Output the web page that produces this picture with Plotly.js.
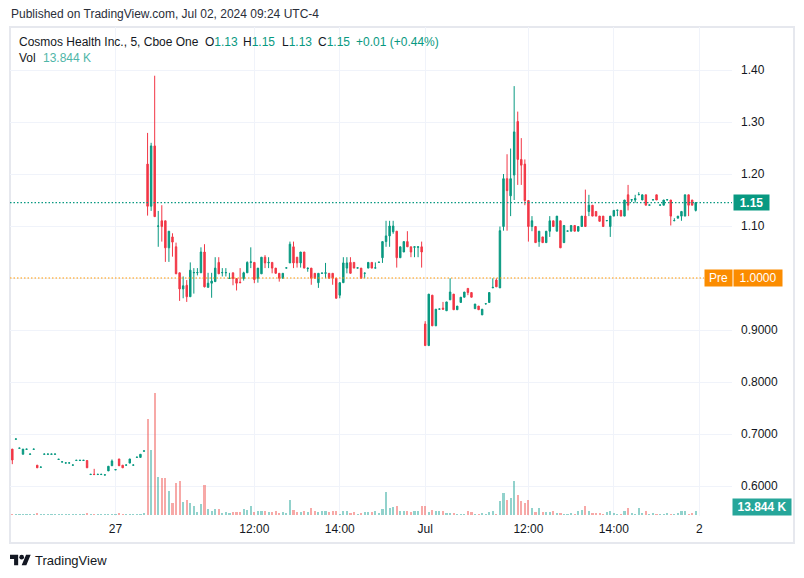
<!DOCTYPE html>
<html><head><meta charset="utf-8">
<script src="https://cdn.plot.ly/plotly-3.0.1.min.js"></script>
<style>html,body{margin:0;padding:0;background:#fff;}#chart{width:804px;height:578px;}</style>
</head><body><div id="chart"></div>
<script>
// ---- data (5-minute bars, Cosmos Health Inc., Cboe One) ----
const opens = [
0.671,0.690,0.6725,0.661,0.6705,0.661,0.6705,0.640,0.636,0.661,
0.661,0.661,0.661,0.651,0.646,0.644,0.644,0.640,0.649,0.649,
0.649,0.649,0.622,0.6225,0.622,0.622,0.621,0.629,0.639,0.631,
0.652,0.640,0.640,0.644,0.640,0.655,0.655,0.667,
1.219,1.138,1.254,1.0995,1.110,1.110,1.058,1.079,1.060,1.010,
0.979,0.986,0.964,1.010,1.010,1.010,1.050,0.982,0.990,0.993,
1.030,1.010,1.010,0.999,1.010,0.999,0.992,0.999,1.010,1.030,
1.030,0.9995,
1.008,1.040,1.029,1.030,1.019,1.009,0.9995,1.019,1.029,1.060,
1.040,1.029,1.050,1.018,1.019,1.009,0.991,1.009,1.009,1.009,
1.009,0.9995,0.967,0.991,1.019,1.030,1.030,1.019,1.019,1.009,
1.019,1.030,1.019,1.030,1.039,1.070,1.081,1.089,1.090,1.039,
1.050,1.070,1.060,1.059,1.059,1.060,
0.9115,0.870,0.967,0.908,0.940,0.942,0.937,0.958,0.969,0.939,
0.953,0.963,0.980,0.972,0.941,0.946,0.929,0.950,0.953,0.981,
0.996,0.981,1.099,1.191,1.158,1.198,1.301,1.228,1.219,1.149,
1.099,1.099,1.070,1.079,1.068,1.090,1.110,1.090,1.110,1.068,
1.090,1.090,1.101,1.090,1.099,1.119,1.128,1.140,1.128,1.119,
1.119,1.110,1.099,1.119,1.130,1.130,1.119,1.160,1.150,1.150,
1.160,1.150,1.160,1.140,1.150,1.160,1.140,1.140,1.150,1.150,
1.110,1.115,1.119,1.119,1.160,1.150,1.130];
const highs = [
0.671,0.6905,0.673,0.671,0.671,0.6615,0.671,0.640,0.6365,0.6615,
0.6615,0.6615,0.6615,0.6515,0.6465,0.6445,0.6445,0.6405,0.6495,0.6495,
0.6495,0.649,0.6225,0.633,0.6225,0.6225,0.6215,0.638,0.651,0.6315,
0.652,0.640,0.6405,0.652,0.6405,0.6555,0.661,0.6675,
1.279,1.260,1.389,1.129,1.140,1.110,1.090,1.086,1.068,1.010,
1.003,0.996,1.030,1.019,1.019,1.059,1.065,1.010,1.010,1.040,
1.040,1.019,1.019,1.010,1.010,0.999,1.019,1.012,1.032,1.059,
1.030,1.019,
1.040,1.044,1.040,1.030,1.019,1.009,1.009,1.0195,1.070,1.070,
1.040,1.050,1.050,1.019,1.019,1.009,1.009,1.0095,1.029,1.009,
1.009,0.9995,0.991,1.040,1.040,1.040,1.030,1.0195,1.019,1.0095,
1.030,1.030,1.030,1.0305,1.070,1.110,1.110,1.110,1.090,1.060,
1.070,1.090,1.060,1.060,1.060,1.070,
0.917,0.969,0.967,0.940,0.9405,0.954,0.954,0.9994,0.969,0.946,
0.963,0.973,0.980,0.972,0.950,0.946,0.940,0.9505,0.972,0.9994,
0.9994,1.099,1.200,1.238,1.249,1.369,1.320,1.269,1.228,1.149,
1.119,1.099,1.090,1.079,1.090,1.119,1.110,1.119,1.110,1.101,
1.0905,1.101,1.101,1.099,1.119,1.170,1.160,1.140,1.128,1.119,
1.119,1.1105,1.119,1.130,1.1305,1.130,1.150,1.179,1.1505,1.160,
1.165,1.160,1.160,1.1405,1.1505,1.160,1.1405,1.150,1.1505,1.150,
1.115,1.119,1.128,1.160,1.160,1.150,1.146];
const lows = [
0.642,0.690,0.6725,0.661,0.6705,0.661,0.6705,0.635,0.636,0.661,
0.661,0.661,0.661,0.651,0.646,0.644,0.644,0.640,0.649,0.649,
0.649,0.635,0.622,0.622,0.622,0.622,0.621,0.629,0.639,0.631,
0.639,0.635,0.640,0.644,0.640,0.655,0.655,0.667,
1.120,1.129,1.118,1.060,1.070,1.031,1.031,1.041,1.008,0.956,
0.961,0.954,0.964,0.970,1.005,1.010,0.982,0.982,0.962,0.993,
1.008,1.003,1.003,0.999,0.986,0.976,0.991,0.995,1.010,1.019,
0.990,0.991,
1.008,1.019,1.019,1.009,1.009,0.993,0.9995,1.019,1.029,1.019,
1.020,1.020,1.019,1.012,0.987,0.9995,0.981,1.009,0.9995,0.9995,
0.987,0.961,0.961,0.991,1.009,1.009,1.019,1.019,0.9995,0.9995,
1.019,1.019,1.019,1.030,1.029,1.060,1.060,1.085,1.020,1.039,
1.050,1.060,1.040,1.040,1.040,1.020,
0.870,0.870,0.908,0.908,0.940,0.940,0.937,0.958,0.939,0.939,
0.953,0.963,0.967,0.963,0.941,0.939,0.929,0.950,0.953,0.981,
0.983,0.981,1.091,1.091,1.119,1.150,1.179,1.179,1.140,1.070,
1.090,1.068,1.060,1.068,1.068,1.079,1.099,1.090,1.058,1.068,
1.090,1.090,1.090,1.090,1.099,1.099,1.119,1.119,1.119,1.109,
1.099,1.110,1.079,1.119,1.119,1.119,1.119,1.130,1.146,1.145,
1.160,1.150,1.140,1.140,1.150,1.150,1.140,1.140,1.150,1.101,
1.110,1.115,1.110,1.119,1.119,1.140,1.128];
const closes = [
0.650,0.6905,0.673,0.671,0.671,0.6615,0.671,0.635,0.6365,0.6615,
0.6615,0.6615,0.6615,0.6515,0.6465,0.6445,0.6445,0.6405,0.6495,0.6495,
0.6495,0.635,0.6225,0.622,0.6225,0.6225,0.6215,0.638,0.648,0.6315,
0.639,0.635,0.6405,0.652,0.6405,0.6555,0.661,0.6675,
1.138,1.254,1.118,1.100,1.099,1.058,1.090,1.069,1.008,0.979,
0.985,0.964,1.015,1.0105,1.0105,1.050,0.983,0.990,0.994,1.019,
1.008,1.0105,1.0105,0.9995,0.999,0.990,0.991,1.010,1.030,1.031,
0.997,1.019,
1.040,1.029,1.030,1.019,1.009,0.9995,1.009,1.0195,1.065,1.029,
1.029,1.050,1.019,1.019,0.9995,0.9995,1.009,1.0095,1.010,0.9995,
0.9995,0.961,0.991,1.029,1.029,1.009,1.019,1.0195,0.9995,1.0095,
1.030,1.019,1.0195,1.0305,1.070,1.081,1.100,1.100,1.039,1.060,
1.070,1.060,1.050,1.060,1.060,1.050,
0.870,0.969,0.908,0.940,0.9405,0.940,0.954,0.973,0.939,0.946,
0.963,0.973,0.972,0.963,0.950,0.939,0.940,0.9505,0.972,0.982,
0.983,1.091,1.191,1.168,1.191,1.281,1.228,1.217,1.149,1.099,
1.110,1.068,1.090,1.068,1.090,1.110,1.099,1.119,1.058,1.101,
1.0905,1.101,1.090,1.099,1.119,1.099,1.140,1.119,1.119,1.109,
1.099,1.1105,1.119,1.130,1.1305,1.119,1.150,1.140,1.1505,1.153,
1.1605,1.160,1.140,1.1405,1.1505,1.150,1.1405,1.150,1.1505,1.119,
1.1105,1.119,1.128,1.160,1.140,1.140,1.145];
const volumesK = [
4,3,4,3,4,3,4,5,3,4, 3,4,3,4,3,4,3,4,3,4,
3,5,3,4,3,4,3,4,4,3, 8,4,3,4,3,4,4,5,
439,297,561,173,168,168,108,53,145,152, 58,67,53,39,12,48,136,25,16,25,
25,7,12,5,12,12,12,25,21,39, 11,14,
14,14,11,11,18,8,11,8,66,23, 11,11,18,11,29,14,11,14,18,11,
18,18,4,18,14,8,11,4,8,11, 11,11,18,8,26,103,29,34,37,18,
18,14,11,14,18,37,
37,11,23,14,14,18,8,8,8,4, 4,4,18,11,4,4,8,4,11,14,
4,60,101,66,75,156,92,60,55,69, 32,11,28,11,11,11,
18,8,8,4,4,8,4,18,23,37, 14,8,8,8,4,11,14,8,4,4,
18,28,8,4,32,8,14,4,8,4, 4,4,8,4,4,8,14,14,4,8, 13.844];

const tickBars   = [29, 68, 92, 116, 145, 169, 193];
const tickLabels = ['27', '12:00', '14:00', 'Jul', '12:00', '14:00', '2'];
const priceTicks      = [0.6, 0.7, 0.8, 0.9, 1.0, 1.1, 1.2, 1.3, 1.4];
const priceTickLabels = ['0.6000', '0.7000', '0.8000', '0.9000', '', '1.10', '1.20', '1.30', '1.40'];
const prePrice = 1.0;
const lastPriceLabel = '1.15';
const prePriceLabel = '1.0000';
const lastVolumeLabel = '13.844 K';

// ---- layout geometry ----
const W = 804, H = 578, ML = 10, MR = 72, MT = 27, MB = 62;
const PW = W - ML - MR, PH = H - MT - MB;
const px = v => (v - ML) / PW;
const py = v => (H - MB - v) / PH;

const UP = '#089981', DOWN = '#f23645';
const idx = opens.map((_, i) => i);
const lastClose = closes[closes.length - 1];
const volColors = closes.map((c, i) => c >= opens[i] ? 'rgba(38,166,154,0.5)' : 'rgba(239,83,80,0.5)');
const FONT = 'Liberation Sans, Arial, sans-serif';

const volume = {
  type: 'bar', x: idx, y: volumesK, yaxis: 'y2',
  marker: {color: volColors, line: {width: 0}}, width: 0.6,
  hoverinfo: 'skip', showlegend: false
};
const candles = {
  type: 'candlestick', x: idx, open: opens, high: highs, low: lows, close: closes,
  increasing: {line: {color: UP, width: 1}, fillcolor: UP},
  decreasing: {line: {color: DOWN, width: 1}, fillcolor: DOWN},
  whiskerwidth: 0, hoverinfo: 'skip', showlegend: false
};

const txt = (text, x, y, opts) => Object.assign({
  text, x: px(x), y: py(y), xref: 'paper', yref: 'paper', xanchor: 'left', yanchor: 'middle',
  showarrow: false, borderpad: 0, font: {family: FONT, size: 12, color: '#131722'}
}, opts || {});
const val = s => '<span style="color:#089981">' + s + '</span>';

const annotations = [
  txt('Published on TradingView.com, Jul 02, 2024 09:24 UTC-4', 10, 14, {font: {family: FONT, size: 12, color: '#2a2e39'}}),
  txt('Cosmos Health Inc., 5, Cboe One', 18, 42),
  txt('O' + val('1.13'), 203.5, 42),
  txt('H' + val('1.15'), 241.5, 42),
  txt('L' + val('1.13'), 280.5, 42),
  txt('C' + val('1.15'), 316.5, 42),
  txt(val('+0.01 (+0.44%)'), 354.5, 42),
  txt('Vol', 18, 58),
  txt('<span style="color:#4fb6a8">' + lastVolumeLabel + '</span>', 42, 58),
  // right-side price / volume labels
  {text: '<b>' + lastPriceLabel + '</b>', x: px(733), y: lastClose, xref: 'paper', yref: 'y', xanchor: 'left', yanchor: 'middle',
   showarrow: false, width: 35, height: 15, borderpad: 0, bgcolor: UP, font: {family: FONT, size: 12, color: '#fff'}},
  {text: 'Pre', x: px(704), y: prePrice, xref: 'paper', yref: 'y', xanchor: 'left', yanchor: 'middle',
   showarrow: false, width: 27, height: 16, borderpad: 0, bgcolor: '#fb8c00', font: {family: FONT, size: 12, color: '#fff'}},
  {text: prePriceLabel, x: px(733), y: prePrice, xref: 'paper', yref: 'y', xanchor: 'left', yanchor: 'middle',
   showarrow: false, width: 48, height: 16, borderpad: 0, bgcolor: '#fb8c00', font: {family: FONT, size: 12, color: '#fff'}},
  {text: '<b>' + lastVolumeLabel + '</b>', x: px(732), y: py(507), xref: 'paper', yref: 'paper', xanchor: 'left', yanchor: 'middle',
   showarrow: false, width: 58, height: 16, borderpad: 0, bgcolor: '#26a69a', font: {family: FONT, size: 12, color: '#fff'}},
  txt('TradingView', 34, 560, {font: {family: FONT, size: 13, color: '#131722'}})
];

const shapes = [
  {type: 'rect', xref: 'paper', yref: 'paper', x0: px(10), x1: px(794), y0: py(543), y1: py(27),
   line: {color: '#e6e8ee', width: 2}, layer: 'below'},
  {type: 'line', xref: 'paper', yref: 'y', x0: 0, x1: 1, y0: lastClose, y1: lastClose,
   line: {color: UP, width: 1.2, dash: '1.5px,2px'}},
  {type: 'line', xref: 'paper', yref: 'y', x0: 0, x1: px(704), y0: prePrice, y1: prePrice,
   line: {color: '#ff9800', width: 1.2, dash: '1.5px,2px'}}
];

const logoSvg = '<svg xmlns="http://www.w3.org/2000/svg" viewBox="0 0 36 28"><path fill="#131722" d="M14 22H7V11H0V4h14v18zM28 22h-8l7.5-18h8L28 22z"/><circle fill="#131722" cx="20" cy="8" r="4"/></svg>';

const layout = {
  width: W, height: H, margin: {l: ML, r: MR, t: MT, b: MB},
  paper_bgcolor: '#fff', plot_bgcolor: '#fff',
  font: {family: FONT, size: 12, color: '#131722'},
  showlegend: false, boxgap: 0.42, bargap: 0,
  xaxis: {range: [-0.65, 202.2], tickvals: tickBars, ticktext: tickLabels,
    showgrid: true, gridcolor: '#f0f3fa', gridwidth: 1, zeroline: false, showline: false,
    ticks: '', ticklabelstandoff: 4, tickfont: {family: FONT, size: 12, color: '#131722'}, rangeslider: {visible: false}, fixedrange: true},
  yaxis: {range: [0.542308, 1.482692], side: 'right', tickvals: priceTicks, ticktext: priceTickLabels,
    showgrid: true, gridcolor: '#f0f3fa', gridwidth: 1, zeroline: false, showline: false,
    ticks: '', ticklabelstandoff: 8, tickfont: {family: FONT, size: 12, color: '#131722'}, fixedrange: true},
  yaxis2: {overlaying: 'y', range: [-6.9, 2242.5], visible: false, showgrid: false, zeroline: false, fixedrange: true},
  annotations, shapes,
  images: [{source: 'data:image/svg+xml;base64,' + btoa(logoSvg), xref: 'paper', yref: 'paper',
    x: px(10), y: py(552.5), sizex: 21 / PW, sizey: 16.3 / PH, sizing: 'stretch', xanchor: 'left', yanchor: 'top', layer: 'above'}]
};

Plotly.newPlot('chart', [volume, candles], layout, {displayModeBar: false, staticPlot: true});
</script>
</body></html>
